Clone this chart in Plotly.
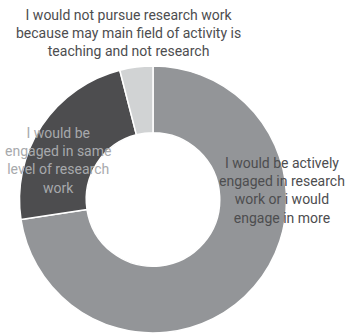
import plotly.graph_objects as go

# Survey answer categories and their shares (%)
labels = [
    "I would be actively<br>engaged in research<br>work or i would<br>engage in more",
    "I would be<br>engaged in same<br>level of research<br>work",
    "I would not pursue research work<br>because may main field of activity is<br>teaching and not research",
]
values = [72.6, 23.4, 4.0]
colors = ["#939598", "#4d4d4f", "#d1d3d4"]
label_colors = ["#4d4d4f", "#a7a9ac", "#4d4d4f"]

W, H = 346, 334
cx, cy, r = 153, 199.5, 133.5  # pie centre/radius in pixels

fig = go.Figure(go.Pie(
    labels=[l.replace("<br>", " ") for l in labels],
    values=values,
    marker=dict(colors=colors, line=dict(color="white", width=1.5)),
    hole=0.5,
    sort=False,
    direction="clockwise",
    rotation=0,
    textinfo="none",
    hoverinfo="label+percent",
    domain=dict(x=[(cx - r) / W, (cx + r) / W],
                y=[(H - cy - r) / H, (H - cy + r) / H]),
    showlegend=False,
))

# label anchor points (pixels from top-left)
label_pos = [(282, 190), (58, 160), (128, 33)]
for text, col, (px, py) in zip(labels, label_colors, label_pos):
    fig.add_annotation(
        text=text, x=px / W, y=1 - py / H, xref="paper", yref="paper",
        showarrow=False, xanchor="center", yanchor="middle", align="center",
        font=dict(family="Roboto", size=14, color=col),
    )

fig.update_layout(
    width=W, height=H,
    margin=dict(l=0, r=0, t=0, b=0),
    paper_bgcolor="white", plot_bgcolor="white",
)

fig.write_html("out.html")
